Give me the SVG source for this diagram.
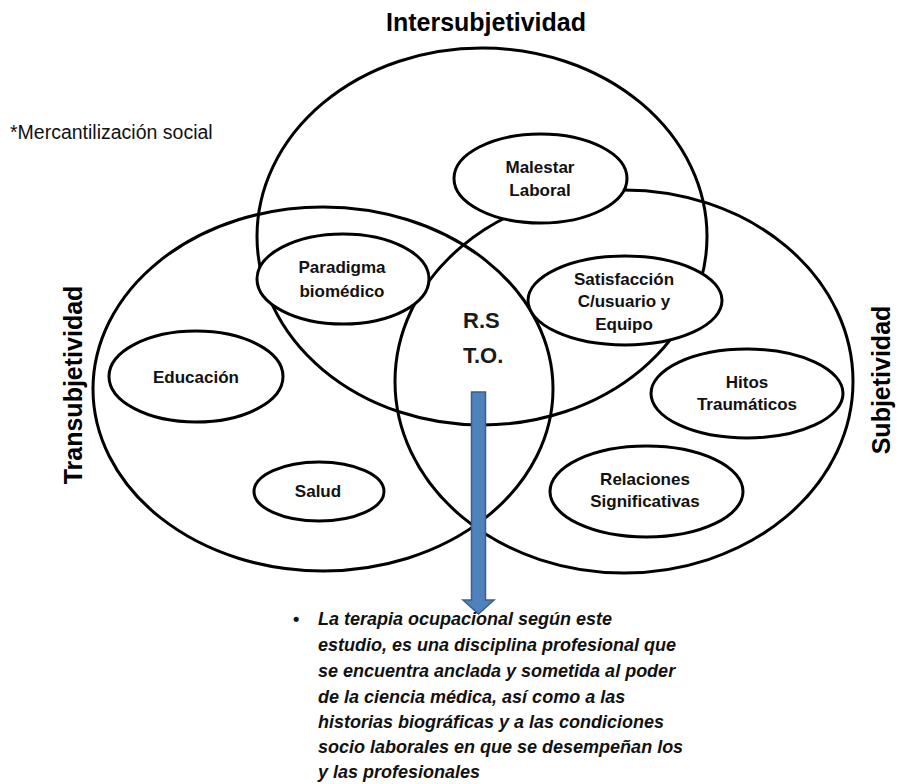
<svg xmlns="http://www.w3.org/2000/svg" width="900" height="784" viewBox="0 0 900 784">
<style>
.big{fill:none;stroke:#000;stroke-width:3}
.node ellipse{fill:#fff;stroke:#000;stroke-width:3}
.lbl{font-family:"Liberation Sans",Arial,sans-serif;font-weight:bold;font-size:17px;fill:#111;text-anchor:middle}
.title{font-family:"Liberation Sans",Arial,sans-serif;font-weight:bold;font-size:25px;fill:#000;text-anchor:middle}
.rs{font-family:"Liberation Sans",Arial,sans-serif;font-weight:bold;font-size:22px;fill:#1a1a1a}
.note{font-family:"Liberation Sans",Arial,sans-serif;font-size:19.5px;fill:#111}
.body{font-family:"Liberation Sans",Arial,sans-serif;font-weight:bold;font-style:italic;font-size:18px;fill:#111}
</style>
<rect width="900" height="784" fill="#fff"/>
<g id="circles">
<ellipse id="inter" class="big" cx="482" cy="236.5" rx="225" ry="188.5"/>
<ellipse id="trans" class="big" cx="323" cy="389" rx="230" ry="182"/>
<ellipse id="subj" class="big" cx="624" cy="381.5" rx="229" ry="191.5"/>
</g>
<g id="malestar" class="node"><ellipse cx="540.5" cy="178.5" rx="86.5" ry="44.5"/><text class="lbl" x="540" y="173">Malestar</text><text class="lbl" x="540" y="196">Laboral</text></g>
<g id="paradigma" class="node"><ellipse cx="343" cy="279" rx="86" ry="45"/><text class="lbl" x="342" y="273">Paradigma</text><text class="lbl" x="342" y="297">biomédico</text></g>
<g id="satisfaccion" class="node"><ellipse cx="625" cy="300.5" rx="97" ry="44.5"/><text class="lbl" x="624" y="285">Satisfacción</text><text class="lbl" x="624" y="307">C/usuario y</text><text class="lbl" x="624" y="330">Equipo</text></g>
<g id="educacion" class="node"><ellipse cx="196" cy="376.5" rx="87" ry="45.5"/><text class="lbl" x="196" y="383">Educación</text></g>
<g id="salud" class="node"><ellipse cx="319" cy="491.5" rx="65" ry="29.5"/><text class="lbl" x="318" y="497">Salud</text></g>
<g id="hitos" class="node"><ellipse cx="747" cy="393.5" rx="96" ry="44.5"/><text class="lbl" x="747" y="388">Hitos</text><text class="lbl" x="747" y="410">Traumáticos</text></g>
<g id="relaciones" class="node"><ellipse cx="646.5" cy="491.5" rx="96.5" ry="45.5"/><text class="lbl" x="645" y="485">Relaciones</text><text class="lbl" x="645" y="507">Significativas</text></g>
<g id="rsto"><text class="rs" x="463" y="328">R.S</text><text class="rs" x="463" y="363">T.O.</text></g>
<g id="connectors">
<path d="M471.5,392 H485.5 V600 H494 L478.5,614 L463,600 H471.5 Z" fill="#4f81bd" stroke="#3a5f8b" stroke-width="1.5"/>
</g>
<text class="title" x="486" y="31">Intersubjetividad</text>
<text class="title" transform="translate(82,385) rotate(-90)">Transubjetividad</text>
<text class="title" transform="translate(890,380) rotate(-90)">Subjetividad</text>
<text class="note" x="10" y="139">*Mercantilización social</text>
<g id="nota">
<text class="body" x="293" y="625" style="font-style:normal">•</text>
<text class="body" x="318" y="625">La terapia ocupacional según este</text>
<text class="body" x="318" y="651">estudio, es una disciplina profesional que</text>
<text class="body" x="318" y="677">se encuentra anclada y sometida al poder</text>
<text class="body" x="318" y="703">de la ciencia médica, así como a las</text>
<text class="body" x="318" y="728">historias biográficas y a las condiciones</text>
<text class="body" x="318" y="753">socio laborales en que se desempeñan los</text>
<text class="body" x="318" y="778">y las profesionales</text>
</g>
</svg>
